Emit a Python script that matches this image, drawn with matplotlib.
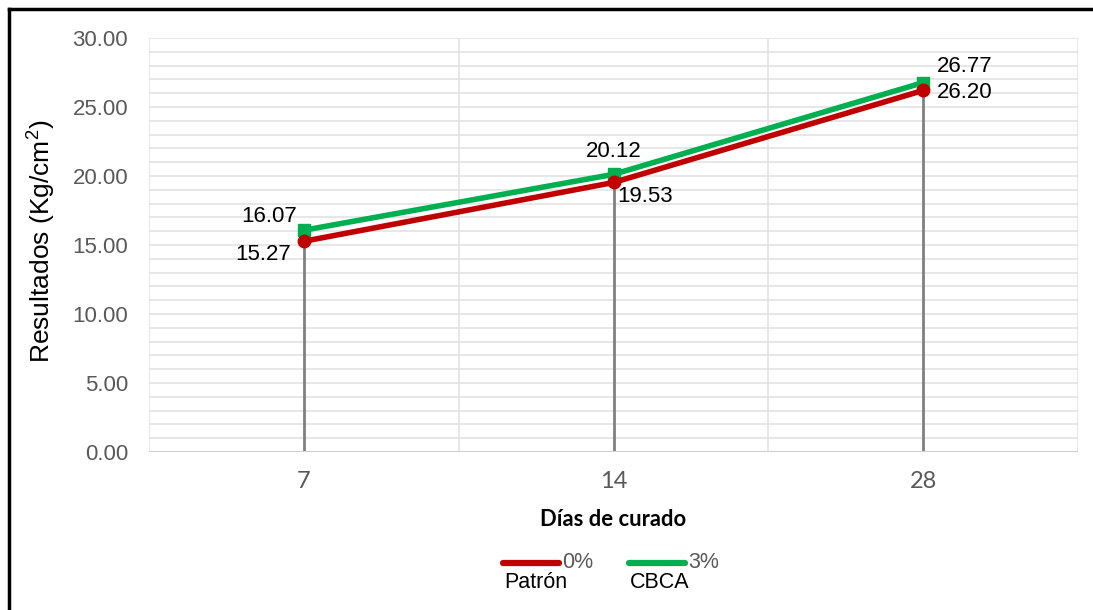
import matplotlib
matplotlib.use("Agg")
import matplotlib.pyplot as plt
from matplotlib.lines import Line2D
import numpy as np

# Data
dias = ["7", "14", "28"]
patron = [15.27, 19.53, 26.20]
cbca = [16.07, 20.12, 26.77]
serie_pct = ["0%", "3%"]
serie_nombre = ["Patrón", "CBCA"]

ROJO = "#C00000"
VERDE = "#00B050"
GRIS_TXT = "#595959"
GRID = "#E3E3E3"

plt.rcParams["font.family"] = ["Liberation Sans", "DejaVu Sans"]
plt.rcParams["mathtext.fontset"] = "custom"
plt.rcParams["mathtext.rm"] = "Liberation Sans"
plt.rcParams["mathtext.it"] = "Liberation Sans"

fig = plt.figure(figsize=(10.93, 6.10), dpi=100)
W, H = 1093, 610
ax = fig.add_axes([149 / W, 1 - 452 / H, (1078 - 149) / W, (452 - 38) / H])

x = np.arange(len(dias))
ax.set_xlim(-0.5, len(dias) - 0.5)
ax.set_ylim(0, 30)

# Grid: 1-unit horizontal lines, category boundaries vertical
for yv in np.arange(0, 31, 1):
    ax.axhline(yv, color=GRID, lw=1.2, zorder=0)
for xv in np.arange(-0.5, len(dias), 1):
    ax.axvline(xv, color=GRID, lw=1.2, zorder=0)

# Drop lines from the higher series down to the axis
for xi, a, b in zip(x, patron, cbca):
    ax.plot([xi, xi], [0, max(a, b)], color="#808080", lw=2, zorder=1)

ax.plot(x, cbca, color=VERDE, lw=4, marker="s", ms=9, zorder=3,
        solid_capstyle="round")
ax.plot(x, patron, color=ROJO, lw=4, marker="o", ms=9, zorder=4,
        solid_capstyle="round")

# Value labels
fs = 16
lbl = dict(fontsize=fs, color="black", zorder=5, textcoords="offset pixels")
ax.annotate(f"{cbca[0]:.2f}", (x[0], cbca[0]), xytext=(-7, 14),
            ha="right", va="center", **lbl)
ax.annotate(f"{patron[0]:.2f}", (x[0], patron[0]), xytext=(-13, -13),
            ha="right", va="center", **lbl)
ax.annotate(f"{cbca[1]:.2f}", (x[1], cbca[1]), xytext=(0, 23),
            ha="center", va="center", **lbl)
ax.annotate(f"{patron[1]:.2f}", (x[1], patron[1]), xytext=(4, -14),
            ha="left", va="center", **lbl)
ax.annotate(f"{cbca[2]:.2f}", (x[2], cbca[2]), xytext=(14, 16),
            ha="left", va="center", **lbl)
ax.annotate(f"{patron[2]:.2f}", (x[2], patron[2]), xytext=(14, -2),
            ha="left", va="center", **lbl)

# Axes styling
ax.set_xticks(x)
ax.set_xticklabels(dias)
ax.set_yticks(np.arange(0, 31, 5))
ax.set_yticklabels([f"{v:.2f}" for v in np.arange(0, 31, 5)])
ax.tick_params(axis="both", length=0, colors=GRIS_TXT, labelsize=16)
ax.tick_params(axis="x", pad=14)
ax.tick_params(axis="y", pad=15)
for lab in ax.get_xticklabels():
    lab.set_fontfamily(["Lato", "DejaVu Sans"])
    lab.set_fontsize(17)
for s in ax.spines.values():
    s.set_visible(False)
ax.axhline(0, color="#D0D0D0", lw=1.5, zorder=1)

fig.text(42 / W, 1 - 241 / H, "Resultados (Kg/cm$^2$)", rotation=90,
         ha="center", va="center", fontsize=19, color="black")
fig.text(613 / W, 1 - 520 / H, "Días de curado", ha="center", va="center",
         fontsize=15.8, fontweight="bold", fontfamily=["Lato", "DejaVu Sans"])

# Legend drawn by hand: line, percentage, series name underneath
leg_items = [(ROJO, 503), (VERDE, 629)]
for (col, x0), pct, name in zip(leg_items, serie_pct, serie_nombre):
    fig.add_artist(Line2D([x0 / W, (x0 + 56) / W], [1 - 563 / H] * 2,
                          color=col, lw=4.5, solid_capstyle="round",
                          transform=fig.transFigure))
    fig.text((x0 + 59) / W, 1 - 563 / H, pct, ha="left", va="center",
             fontsize=15.5, color=GRIS_TXT)
    fig.text((x0 + 1) / W, 1 - 583 / H, name, ha="left", va="center",
             fontsize=15.5, color="black")

# Outer frame (top and left edges visible)
fig.add_artist(Line2D([9 / W, 9 / W], [0, 1 - 9 / H], color="black", lw=2.5,
                      transform=fig.transFigure))
fig.add_artist(Line2D([9 / W, 1], [1 - 9 / H, 1 - 9 / H], color="black", lw=2.5,
                      transform=fig.transFigure))

fig.savefig("out.png", dpi=100, facecolor="white")
